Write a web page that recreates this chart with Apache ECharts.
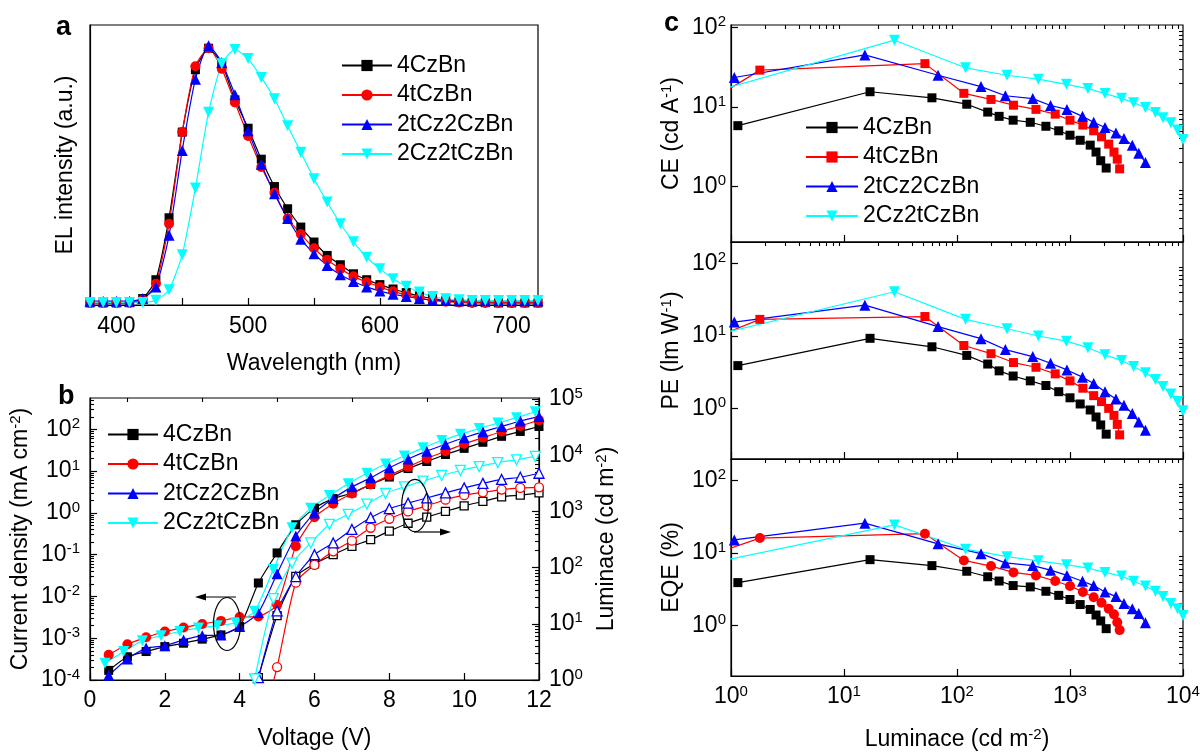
<!DOCTYPE html>
<html><head><meta charset="utf-8">
<script src="https://cdn.jsdelivr.net/npm/echarts@6/dist/echarts.min.js"></script>
<style>html,body{margin:0;padding:0;background:#fff}#c{width:1200px;height:753px}</style>
</head><body><div id="c"></div>
<script>
// ---------------- DATA ----------------
const seriesNames = ['4CzBn', '4tCzBn', '2tCz2CzBn', '2Cz2tCzBn'];
const seriesColors = ['#000000', '#ff0000', '#0000ff', '#00ffff'];

// Panel a: EL spectra (normalized)
const wavelengths = [380,390,400,410,420,430,440,450,460,470,480,490,500,510,520,530,540,550,560,570,580,590,600,610,620,630,640,650,660,670,680,690,700,710,720];
const elA_4CzBn = [0.003,0.003,0.003,0.004,0.02,0.093,0.333,0.665,0.907,0.99,0.93,0.79,0.68,0.56,0.454,0.368,0.297,0.239,0.187,0.151,0.116,0.093,0.074,0.057,0.043,0.03,0.02,0.012,0.007,0.005,0.004,0.003,0.003,0.003,0.003];
const elA_4tCzBn = [0.003,0.003,0.003,0.003,0.015,0.077,0.31,0.665,0.92,0.99,0.91,0.78,0.65,0.53,0.43,0.33,0.27,0.215,0.17,0.135,0.106,0.084,0.065,0.048,0.035,0.023,0.013,0.008,0.005,0.003,0.003,0.003,0.003,0.003,0.003];
const elA_2tCz2CzBn = [0.01,0.01,0.01,0.01,0.02,0.065,0.265,0.594,0.87,1.0,0.935,0.81,0.67,0.54,0.426,0.33,0.25,0.194,0.148,0.112,0.086,0.065,0.049,0.037,0.028,0.02,0.014,0.012,0.011,0.011,0.011,0.011,0.011,0.011,0.011];
const elA_2Cz2tCzBn = [0.005,0.005,0.005,0.005,0.005,0.013,0.054,0.19,0.448,0.742,0.93,0.985,0.95,0.877,0.794,0.69,0.587,0.484,0.394,0.31,0.24,0.18,0.135,0.097,0.068,0.045,0.028,0.019,0.015,0.012,0.012,0.012,0.012,0.012,0.012];

// Panel b: J-V-L
const voltages = [0.5,1,1.5,2,2.5,3,3.5,4,4.5,5,5.5,6,6.5,7,7.5,8,8.5,9,9.5,10,10.5,11,11.5,12];
const voltagesCyan = [0.4,0.9,1.4,1.9,2.4,2.9,3.4,3.9,4.4,4.9,5.4,5.9,6.4,6.9,7.4,7.9,8.4,8.9,9.4,9.9,10.4,10.9,11.4,11.9];
const jB_4CzBn = [1.7e-4,3.6e-4,4.8e-4,6.3e-4,7.6e-4,9.5e-4,1.2e-3,1.9e-3,0.021,0.11,0.52,1.3,2.2,3.0,4.8,7.2,11.5,17,25,35,49,68,89,117];
const jB_4tCzBn = [4.0e-4,7.2e-4,1.05e-3,1.45e-3,1.8e-3,2.2e-3,2.6e-3,3.2e-3,3.3e-3,6.3e-3,0.16,0.79,1.66,2.9,4.8,7.9,12.6,20,30,45,63,89,120,166];
const jB_2tCz2CzBn = [1.3e-4,3.2e-4,5.8e-4,6.6e-4,9.1e-4,1.15e-3,1.2e-3,1.9e-3,4.1e-3,0.035,0.28,1.0,2.2,4.2,6.9,12,19.5,30,44,63,87,117,158,204];
const jB_2Cz2tCzBn = [2.5e-4,4.8e-4,8.7e-4,1.15e-3,1.45e-3,1.75e-3,2.0e-3,2.35e-3,4.4e-3,0.044,0.44,1.3,2.6,5.0,8.9,14.8,23,36,54,76,105,141,190,263];
const lumB_4CzBn = [null,null,null,null,null,null,null,null,1.1,14,70,117,170,240,316,447,617,794,1000,1260,1510,1820,1950,2140];
const lumB_4tCzBn = [null,null,null,null,null,null,null,null,0.1,1.7,54,112,195,302,513,741,1000,1260,1620,1950,2190,2450,2630,2690];
const lumB_2tCz2CzBn = [null,null,null,null,null,null,null,null,1.1,17,69,170,275,479,776,1120,1410,1740,2140,2630,3160,3720,4070,4790];
const lumB_2Cz2tCzBn = [null,null,null,null,null,null,null,null,1.05,28,120,275,590,890,1350,2090,2750,3470,4370,5370,6310,7410,8320,9550];

// Panel c: efficiencies vs luminance
const lumC_4CzBn = [1.15,17,60,122,187,236,314,445,612,795,1000,1230,1510,1700,1870,2090];
const ce_4CzBn = [5.8,15.5,13,10.8,8.6,7.6,6.8,6.4,5.7,5.0,4.4,3.8,3.3,2.7,2.1,1.7];
const pe_4CzBn = [3.9,9.3,7.1,5.4,4.1,3.3,2.8,2.4,2.07,1.7,1.4,1.15,0.95,0.76,0.59,0.44];
const eqe_4CzBn = [3.9,8.1,6.7,5.6,4.7,4.1,3.55,3.4,2.96,2.6,2.28,1.94,1.66,1.39,1.15,0.9];

const lumC_4tCzBn = [0.7,1.8,52,115,200,316,500,740,1000,1300,1620,1900,2200,2450,2620,2750];
const ce_4tCzBn = [12.7,29,35,14.8,12.4,10.5,9.3,8.1,6.8,5.9,5.0,4.2,3.4,2.7,2.2,1.66];
const pe_4tCzBn = [9.4,17,18.6,7.4,5.7,4.3,3.7,3.0,2.4,1.9,1.5,1.24,1.0,0.8,0.6,0.43];
const eqe_4tCzBn = [9.7,16.1,18.5,7.9,6.6,5.4,4.9,4.1,3.5,2.9,2.45,2.05,1.7,1.42,1.1,0.86];

const lumC_2tCz2CzBn = [1.07,15.3,68,163,268,468,673,940,1290,1620,2040,2550,3000,3560,4060,4650];
const ce_2tCz2CzBn = [23.4,45,25,18,13.8,12.7,10.4,9.3,7.6,6.4,5.5,4.7,4.0,3.3,2.6,2.0];
const pe_2tCz2CzBn = [15.6,26.7,13.5,9.2,6.5,5.2,4.2,3.4,2.7,2.2,1.7,1.35,1.1,0.85,0.65,0.5];
const eqe_2tCz2CzBn = [15.2,25.9,13.4,9.8,7.3,6.7,5.8,4.9,4.07,3.55,2.9,2.5,2.0,1.7,1.46,1.09];

const lumC_2Cz2tCzBn = [0.7,28,119,277,525,930,1440,2040,2860,3650,4650,5700,6650,7800,8950,10000];
const ce_2Cz2tCzBn = [15.4,69,31,25,22.3,19.2,17,14.7,12.8,11.3,9.8,8.5,7.3,6.3,5.1,3.9];
const pe_2Cz2tCzBn = [10.2,41,17,12.6,10,8.5,6.9,5.5,4.6,3.8,3.1,2.5,2.0,1.58,1.24,0.93];
const eqe_2Cz2tCzBn = [7.4,24.5,11.3,8.9,7.8,6.9,6.2,5.4,4.8,4.07,3.5,2.96,2.5,2.0,1.7,1.37];

// tick labels
const wlTickLabels = [400,500,600,700];
const voltTickLabels = [0,2,4,6,8,10,12];

// ---------------- HELPERS ----------------
const FONT = "'Liberation Sans', Arial, Helvetica, sans-serif";
const FS = 23;
const TXT = {fontSize:FS, lineHeight:26, fontFamily:FONT, color:'#000'};
const SUP = {fontSize:15, lineHeight:15, verticalAlign:'top', fontFamily:FONT, color:'#000'};
const RICH = {b:TXT, s:SUP, n:TXT};
const pow10 = v => '{b|10}{s|' + Math.round(v) + '}';
const lg = v => Math.log10(v);
function logMajor(lo, hi){ const r=[]; for(let n=Math.ceil(lo-1e-9); n<=Math.floor(hi+1e-9); n++) r.push(n); return r; }
function logMinor(lo, hi){ const r=[]; for(let n=Math.floor(lo)-1; n<=Math.ceil(hi); n++){ for(let k=2;k<=9;k++){ const v=n+Math.log10(k); if(v>=lo-1e-9 && v<=hi+1e-9) r.push(v);} } return r; }
const AXLINE = {show:true, onZero:false, lineStyle:{color:'#000', width:1.2}};

function majorAxis(gridIndex, min, max, opt){
  const o = {type:'value', gridIndex, min, max, splitLine:{show:false}, axisLine:AXLINE,
    axisTick:{show:true, inside:true, length:7, customValues:opt.ticks, lineStyle:{color:'#000', width:1.2}},
    axisLabel:{show:!!opt.labels, customValues:opt.labels || opt.ticks, formatter:opt.formatter, rich:RICH,
      margin:opt.margin==null?9:opt.margin, fontSize:FS, fontFamily:FONT, color:'#000'}};
  if (opt.position) o.position = opt.position;
  if (opt.name){ o.name = opt.name; o.nameLocation='middle'; o.nameGap=opt.nameGap; o.nameRotate=opt.nameRotate;
    o.nameTextStyle = {fontSize:FS, fontFamily:FONT, color:'#000', rich:RICH}; }
  return o;
}
function minorAxis(gridIndex, min, max, ticks, position){
  const o = {type:'value', gridIndex, min, max, splitLine:{show:false}, axisLine:{show:false, onZero:false},
    axisTick:{show:true, inside:true, length:4, customValues:ticks, lineStyle:{color:'#000', width:1.1}},
    axisLabel:{show:false}};
  if (position) o.position = position;
  return o;
}

const SYMBOL = {sq:'rect', ci:'circle', tri:'triangle', dtri:'path://M0,0L10,0L5,9Z'};
const SIZE = {sq:9, ci:10, tri:11, dtri:11};
function ser(name, xi, yi, data, color, sym, open, smooth){
  return {type:'line', name, xAxisIndex:xi, yAxisIndex:yi, data, symbol:SYMBOL[sym],
    symbolSize: open ? SIZE[sym]-1 : SIZE[sym], showSymbol:true, showAllSymbol:true, smooth: smooth||false,
    lineStyle:{color, width:1.2},
    itemStyle: open ? {color:'#ffffff', borderColor:color, borderWidth:1.3} : {color, borderColor:color, borderWidth:0},
    emphasis:{disabled:true}, silent:true, clip:true, animation:false};
}
const pairs = (xs, ys, fx, fy) => xs.map((x,i)=> ys[i]==null ? null : [fx?fx(x):x, fy?fy(ys[i]):ys[i]]).filter(p=>p);

// ---------------- AXES ----------------
const bLeft=[-4, 2.75], bRight=[0, 5.02];
const cCE=[-0.7, 2.03], cPE=[-0.7, 2.3], cX=[0,4];

const xAxis = [
  majorAxis(0, 380, 720, {ticks:[400,450,500,550,600,650,700], labels:wlTickLabels, formatter:v=>String(v), margin:10,
    name:'Wavelength (nm)', nameGap:47}),
  majorAxis(1, 0, 12, {ticks:voltTickLabels, labels:voltTickLabels, formatter:v=>String(v), margin:9,
    name:'Voltage (V)', nameGap:47}),
  minorAxis(1, 0, 12, [1,3,5,7,9,11]),
  majorAxis(2, cX[0], cX[1], {ticks:logMajor(0,4)}),
  minorAxis(2, cX[0], cX[1], logMinor(0,4)),
  majorAxis(3, cX[0], cX[1], {ticks:logMajor(0,4)}),
  minorAxis(3, cX[0], cX[1], logMinor(0,4)),
  majorAxis(4, cX[0], cX[1], {ticks:logMajor(0,4), labels:logMajor(0,4), formatter:pow10, margin:8,
    name:'{n|Luminace (cd m}{s|-2}{n|)}', nameGap:51}),
  minorAxis(4, cX[0], cX[1], logMinor(0,4))
];
const yAxis = [
  {type:'value', gridIndex:0, min:-0.005, max:1.08, splitLine:{show:false}, axisLine:AXLINE, axisTick:{show:false},
    axisLabel:{show:false}, name:'EL intensity (a.u.)', nameLocation:'middle', nameGap:13, nameRotate:90,
    nameTextStyle:{fontSize:FS, fontFamily:FONT, color:'#000'}},
  majorAxis(1, bLeft[0], bLeft[1], {ticks:logMajor(bLeft[0],bLeft[1]), labels:logMajor(bLeft[0],bLeft[1]), formatter:pow10, margin:10,
    name:'{n|Current density (mA cm}{s|-2}{n|)}', nameGap:56, nameRotate:90, position:'left'}),
  minorAxis(1, bLeft[0], bLeft[1], logMinor(bLeft[0],bLeft[1]), 'left'),
  majorAxis(1, bRight[0], bRight[1], {ticks:logMajor(bRight[0],bRight[1]), labels:logMajor(bRight[0],bRight[1]), formatter:pow10, margin:10,
    name:'{n|Luminace (cd m}{s|-2}{n|)}', nameGap:55, nameRotate:90, position:'right'}),
  minorAxis(1, bRight[0], bRight[1], logMinor(bRight[0],bRight[1]), 'right'),
  majorAxis(2, cCE[0], cCE[1], {ticks:logMajor(cCE[0],cCE[1]), labels:logMajor(cCE[0],cCE[1]), formatter:pow10, margin:5,
    name:'{n|CE (cd A}{s|-1}{n|)}', nameGap:46, nameRotate:90}),
  minorAxis(2, cCE[0], cCE[1], logMinor(cCE[0],cCE[1])),
  majorAxis(3, cPE[0], cPE[1], {ticks:logMajor(cPE[0],cPE[1]), labels:logMajor(cPE[0],cPE[1]), formatter:pow10, margin:5,
    name:'{n|PE (lm W}{s|-1}{n|)}', nameGap:46, nameRotate:90}),
  minorAxis(3, cPE[0], cPE[1], logMinor(cPE[0],cPE[1])),
  majorAxis(4, cPE[0], cPE[1], {ticks:logMajor(cPE[0],cPE[1]), labels:logMajor(cPE[0],cPE[1]), formatter:pow10, margin:5,
    name:'{n|EQE (%)}', nameGap:46, nameRotate:90}),
  minorAxis(4, cPE[0], cPE[1], logMinor(cPE[0],cPE[1]))
];

// ---------------- SERIES ----------------
const elA = [elA_4CzBn, elA_4tCzBn, elA_2tCz2CzBn, elA_2Cz2tCzBn];
const jB = [jB_4CzBn, jB_4tCzBn, jB_2tCz2CzBn, jB_2Cz2tCzBn];
const lumB = [lumB_4CzBn, lumB_4tCzBn, lumB_2tCz2CzBn, lumB_2Cz2tCzBn];
const vB = [voltages, voltages, voltages, voltagesCyan];
const lumC = [lumC_4CzBn, lumC_4tCzBn, lumC_2tCz2CzBn, lumC_2Cz2tCzBn];
const ceC = [ce_4CzBn, ce_4tCzBn, ce_2tCz2CzBn, ce_2Cz2tCzBn];
const peC = [pe_4CzBn, pe_4tCzBn, pe_2tCz2CzBn, pe_2Cz2tCzBn];
const eqeC = [eqe_4CzBn, eqe_4tCzBn, eqe_2tCz2CzBn, eqe_2Cz2tCzBn];
const symAB = ['sq','ci','tri','dtri'];
const symC = ['sq','sq','tri','dtri'];
const symEQE = ['sq','ci','tri','dtri'];

const series = [];
seriesNames.forEach((n,i)=>{
  series.push(ser('a|'+n, 0, 0, pairs(wavelengths, elA[i]), seriesColors[i], symAB[i], false, 0.2));
});
seriesNames.forEach((n,i)=>{
  series.push(ser('b|'+n, 1, 1, pairs(vB[i], jB[i], null, lg), seriesColors[i], symAB[i], false, 0.2));
});
seriesNames.forEach((n,i)=>{
  series.push(ser('bL|'+n, 1, 3, pairs(vB[i], lumB[i], null, lg), seriesColors[i], symAB[i], true, 0.2));
});
seriesNames.forEach((n,i)=>{
  series.push(ser('c1|'+n, 3, 5, pairs(lumC[i], ceC[i], lg, lg), seriesColors[i], symC[i], false));
  series.push(ser('c2|'+n, 5, 7, pairs(lumC[i], peC[i], lg, lg), seriesColors[i], symC[i], false));
  series.push(ser('c3|'+n, 7, 9, pairs(lumC[i], eqeC[i], lg, lg), seriesColors[i], symEQE[i], false));
});

function legendFor(prefix, left, top, itemWidth){
  return {show:true, orient:'vertical', left, top, itemWidth, itemHeight:14, itemGap:6.5, selectedMode:false,
    data: seriesNames.map(n=>prefix+n), formatter: s=>s.split('|')[1],
    textStyle:{fontSize:FS, lineHeight:22, fontFamily:FONT, color:'#000'}, padding:0};
}

const grid = [
  {left:90, top:25, width:448, height:280},
  {left:90, top:398, width:449, height:282},
  {left:731, top:25, width:452, height:217},
  {left:731, top:242, width:452, height:217},
  {left:731, top:459, width:452, height:217}
].map(g=>Object.assign({show:true, borderColor:'#000', borderWidth:1.2, backgroundColor:'rgba(0,0,0,0)', containLabel:false, outerBoundsMode:'none'}, g));

const LBL = "bold 27px 'Liberation Sans', Arial, sans-serif";
const graphic = [
  {type:'text', style:{text:'a', x:56, y:28, font:LBL, fill:'#000', verticalAlign:'middle', textVerticalAlign:'middle'}},
  {type:'text', style:{text:'b', x:58, y:397, font:LBL, fill:'#000', verticalAlign:'middle', textVerticalAlign:'middle'}},
  {type:'text', style:{text:'c', x:664, y:24, font:LBL, fill:'#000', verticalAlign:'middle', textVerticalAlign:'middle'}},
  {type:'ellipse', shape:{cx:227, cy:624, rx:13.5, ry:26.5}, style:{fill:'none', stroke:'#000', lineWidth:1.2}, z:100},
  {type:'polyline', shape:{points:[[236,597],[202,597]]}, style:{stroke:'#000', lineWidth:1.2, fill:'none'}, z:100},
  {type:'polygon', shape:{points:[[195,597],[206,593.5],[206,600.5]]}, style:{fill:'#000'}, z:100},
  {type:'ellipse', shape:{cx:415, cy:505.5, rx:13.3, ry:26.2}, style:{fill:'none', stroke:'#000', lineWidth:1.2}, z:100},
  {type:'polyline', shape:{points:[[414,532],[444,532]]}, style:{stroke:'#000', lineWidth:1.2, fill:'none'}, z:100},
  {type:'polygon', shape:{points:[[451,532],[440,528.5],[440,535.5]]}, style:{fill:'#000'}, z:100}
];

const chart = echarts.init(document.getElementById('c'), null, {renderer:'canvas'});
chart.setOption({
  animation:false, backgroundColor:'#ffffff', textStyle:{fontFamily:FONT},
  grid, xAxis, yAxis, series, graphic,
  legend:[legendFor('a|', 341, 54, 50), legendFor('b|', 107, 423, 50), legendFor('c1|', 805, 116, 52)]
});
</script></body></html>
